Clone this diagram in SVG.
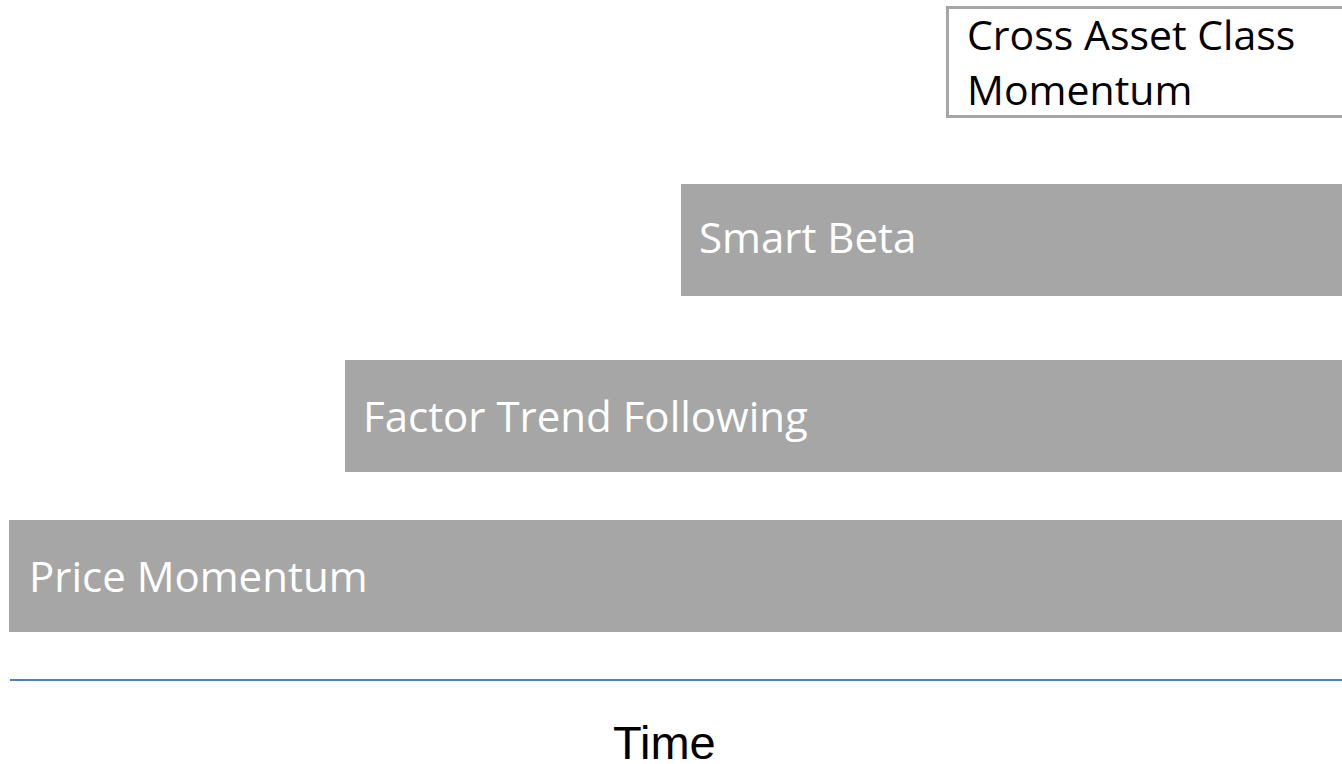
<svg xmlns="http://www.w3.org/2000/svg" width="1342" height="764" viewBox="0 0 1342 764">
<style>
.bar{fill:#a6a6a6;}
.lbl{font-family:"Open Sans","Liberation Sans",sans-serif;font-size:42px;fill:#ffffff;}
.blk{font-family:"Open Sans","Liberation Sans",sans-serif;font-size:41px;fill:#000000;}
.time{font-family:"Liberation Sans",Arial,sans-serif;font-size:47px;fill:#000000;}
</style>
<rect width="1342" height="764" fill="#ffffff"/>
<g id="cross-asset">
<rect x="947.5" y="7.5" width="400" height="109" fill="#ffffff" stroke="#a6a6a6" stroke-width="3"/>
<text class="blk" x="967" y="50">Cross Asset Class</text>
<text class="blk" x="967" y="105">Momentum</text>
</g>
<g id="smart-beta">
<rect class="bar" x="681" y="184" width="661" height="112"/>
<text class="lbl" x="699" y="253">Smart Beta</text>
</g>
<g id="factor-trend">
<rect class="bar" x="345" y="360" width="997" height="112"/>
<text class="lbl" x="363" y="432">Factor Trend Following</text>
</g>
<g id="price-momentum">
<rect class="bar" x="9" y="520" width="1333" height="112"/>
<text class="lbl" x="29" y="592">Price Momentum</text>
</g>
<g id="connectors">
<line x1="10" y1="680" x2="1342" y2="680" stroke="#4f81bd" stroke-width="2"/>
</g>
<g id="time-label">
<text class="time" x="613" y="759">Time</text>
</g>
</svg>
